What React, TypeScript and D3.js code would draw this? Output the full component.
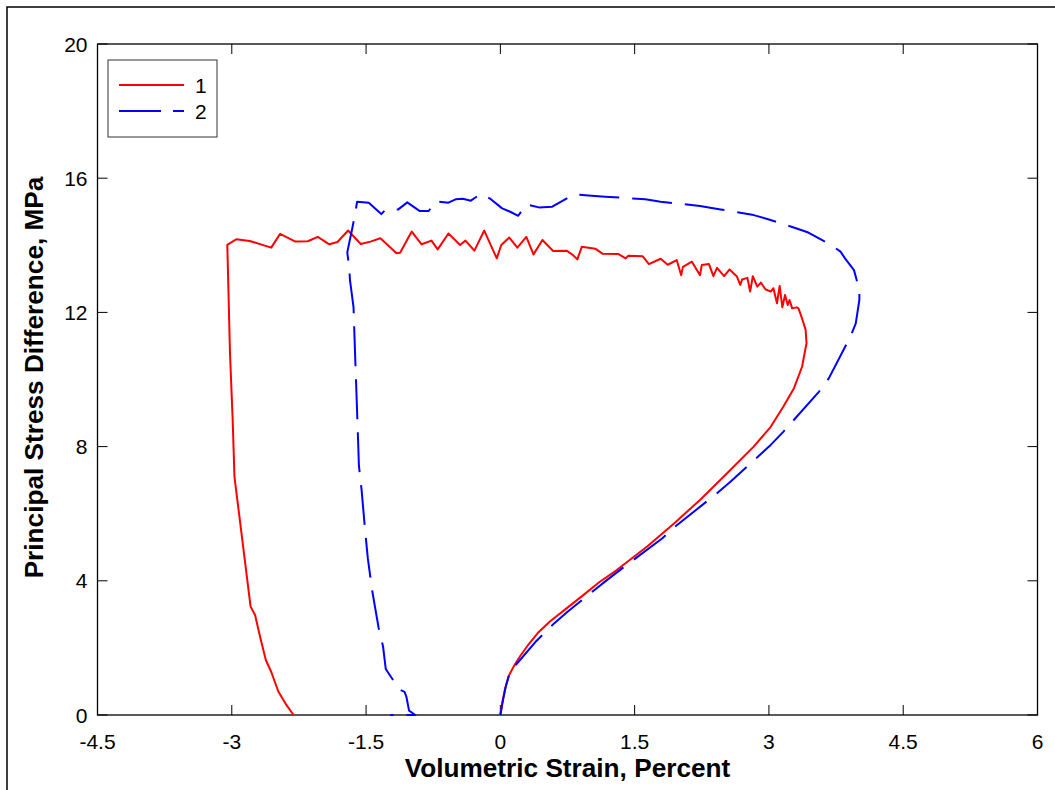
import React from "react";
import * as d3 from "d3";

// Series 1 (red, solid): [volumetric strain %, principal stress difference MPa]
const series1: [number, number][] = [
  [0, 0], [0.02, 0.35], [0.05, 0.75], [0.09, 1.15], [0.15, 1.45], [0.22, 1.75], [0.3, 2.05],
  [0.42, 2.45], [0.56, 2.8], [0.75, 3.2], [0.93, 3.58], [1.1, 3.95], [1.3, 4.32], [1.64, 5.02],
  [1.94, 5.71], [2.23, 6.41], [2.53, 7.2], [2.83, 8.0], [3.02, 8.59], [3.16, 9.19], [3.28, 9.74],
  [3.37, 10.38], [3.42, 11.08], [3.41, 11.48], [3.37, 11.82], [3.33, 12.12],
  [3.31, 12.15], [3.26, 12.12], [3.23, 12.37], [3.21, 12.22], [3.18, 12.52], [3.15, 12.15],
  [3.12, 12.79], [3.09, 12.27], [3.05, 12.72], [3.02, 12.62], [2.96, 12.69], [2.91, 12.89],
  [2.87, 12.77], [2.82, 13.08], [2.79, 12.62], [2.76, 13.03], [2.7, 12.98], [2.68, 12.82],
  [2.64, 13.08], [2.56, 13.28], [2.5, 13.08], [2.42, 13.33], [2.38, 13.08], [2.33, 13.44],
  [2.25, 13.41], [2.23, 13.11], [2.14, 13.51], [2.04, 13.36], [2.02, 13.11], [1.97, 13.56],
  [1.87, 13.42], [1.79, 13.6], [1.66, 13.44], [1.59, 13.67], [1.43, 13.69], [1.4, 13.61],
  [1.32, 13.74], [1.14, 13.75], [1.06, 13.9], [0.91, 13.96], [0.86, 13.58], [0.81, 13.71],
  [0.74, 13.84], [0.59, 13.83], [0.47, 14.16], [0.37, 13.73], [0.29, 14.25], [0.19, 13.93],
  [0.1, 14.23], [0.01, 14.01], [-0.04, 13.61], [-0.18, 14.44], [-0.29, 13.84], [-0.39, 14.14],
  [-0.45, 14.01], [-0.58, 14.35], [-0.7, 13.88], [-0.77, 14.14], [-0.88, 14.03], [-0.99, 14.41],
  [-1.12, 13.78], [-1.16, 13.76], [-1.34, 14.21], [-1.45, 14.11], [-1.56, 14.04], [-1.7, 14.44],
  [-1.82, 14.1], [-1.91, 14.03], [-2.04, 14.25], [-2.15, 14.12], [-2.29, 14.11], [-2.46, 14.34],
  [-2.56, 13.93], [-2.8, 14.13], [-2.95, 14.18], [-3.05, 14.01],
  [-3.02, 10.78], [-2.99, 8.79], [-2.97, 7.1], [-2.79, 3.23], [-2.74, 2.98], [-2.68, 2.29],
  [-2.62, 1.64], [-2.56, 1.29], [-2.48, 0.7], [-2.39, 0.3], [-2.31, 0.0],
];

// Series 2 (blue, dashed)
const series2: [number, number][] = [
  [0, 0], [0.03, 0.45], [0.06, 0.84], [0.11, 1.3], [0.22, 1.64], [0.4, 2.2], [0.6, 2.73],
  [0.75, 3.08], [1.19, 4.02], [1.36, 4.37], [1.81, 5.27], [1.95, 5.61], [2.42, 6.61],
  [2.57, 6.95], [3.02, 8.05], [3.16, 8.44], [3.56, 9.64], [3.67, 10.04], [3.91, 11.28],
  [3.97, 11.67], [4.01, 12.37], [4.01, 12.6], [4.0, 12.77], [3.95, 13.26], [3.85, 13.61],
  [3.8, 13.81], [3.72, 13.96], [3.59, 14.16], [3.44, 14.38], [3.31, 14.5], [3.0, 14.77],
  [2.83, 14.9], [2.46, 15.07], [2.23, 15.17], [1.79, 15.3], [1.62, 15.37], [1.34, 15.42],
  [1.17, 15.45], [1.02, 15.48], [0.82, 15.52], [0.58, 15.15], [0.43, 15.13], [0.29, 15.22],
  [0.2, 14.88], [0.11, 15.0], [0.02, 15.1], [-0.12, 15.4], [-0.22, 15.53], [-0.33, 15.33],
  [-0.42, 15.39], [-0.5, 15.37], [-0.58, 15.27], [-0.73, 15.31], [-0.8, 15.02], [-0.9, 15.02],
  [-1.04, 15.28], [-1.14, 15.07], [-1.28, 15.07], [-1.33, 14.93], [-1.47, 15.27], [-1.6, 15.3],
  [-1.62, 14.97], [-1.65, 14.56], [-1.71, 13.79], [-1.69, 13.38], [-1.68, 12.97], [-1.64, 12.15],
  [-1.63, 11.33], [-1.61, 9.79], [-1.59, 8.25], [-1.58, 7.43], [-1.55, 6.71], [-1.51, 5.48],
  [-1.48, 4.66], [-1.43, 3.68], [-1.36, 2.6], [-1.31, 2.04], [-1.28, 1.37], [-1.19, 1.01],
  [-1.13, 0.76], [-1.07, 0.69], [-1.05, 0.55], [-1.02, 0.13], [-0.95, 0], [-1.23, 0],
];

const xTicks = [-4.5, -3, -1.5, 0, 1.5, 3, 4.5, 6];
const yTicks = [0, 4, 8, 12, 16, 20];
const seriesNames = ["1", "2"];
const xLabel = "Volumetric Strain, Percent";
const yLabel = "Principal Stress Difference, MPa";

const W = 1055;
const H = 790;
const L = 97.5, R = 1037.5, T = 44, B = 715;
const font = "Arial, 'Liberation Sans', sans-serif";

export default function App() {
  const x = d3.scaleLinear().domain([-4.5, 6]).range([L, R]);
  const y = d3.scaleLinear().domain([0, 20]).range([B, T]);
  const line = d3.line<[number, number]>().x((d) => x(d[0])).y((d) => y(d[1]));
  const tl = 10;
  return (
    <svg width={W} height={H} style={{ position: "absolute", left: 0, top: 0, background: "#fff" }}>
      <rect x={0} y={0} width={W} height={H} fill="#fff" />
      <rect x={7} y={7} width={W + 20} height={H + 20} fill="none" stroke="#000" strokeWidth={1.5} />
      {/* axes box */}
      <rect x={L} y={T} width={R - L} height={B - T} fill="#fff" stroke="#000" strokeWidth={1.3} />
      {xTicks.map((t) => (
        <g key={"x" + t}>
          <line x1={x(t)} x2={x(t)} y1={B} y2={B - tl} stroke="#000" strokeWidth={1} />
          <line x1={x(t)} x2={x(t)} y1={T} y2={T + tl} stroke="#000" strokeWidth={1} />
          <text x={x(t)} y={748.5} textAnchor="middle" fontFamily={font} fontSize={21} fill="#000">
            {t}
          </text>
        </g>
      ))}
      {yTicks.map((t) => (
        <g key={"y" + t}>
          <line x1={L} x2={L + tl} y1={y(t)} y2={y(t)} stroke="#000" strokeWidth={1} />
          <line x1={R} x2={R - tl} y1={y(t)} y2={y(t)} stroke="#000" strokeWidth={1} />
          <text x={87.5} y={y(t) + 7.5} textAnchor="end" fontFamily={font} fontSize={21} fill="#000">
            {t}
          </text>
        </g>
      ))}
      <path d={line(series1) || ""} fill="none" stroke="#ff0000" strokeWidth={2} strokeLinejoin="round" />
      <path d={line(series2) || ""} fill="none" stroke="#0000ff" strokeWidth={2} strokeDasharray="40,13" strokeLinejoin="round" />
      {/* legend */}
      <rect x={108} y={60} width={109} height={77} fill="#fff" stroke="#333" strokeWidth={1} />
      <line x1={119} x2={184} y1={85} y2={85} stroke="#ff0000" strokeWidth={2} />
      <line x1={119} x2={184} y1={111} y2={111} stroke="#0000ff" strokeWidth={2} strokeDasharray="42,12" />
      <text x={195} y={92.5} fontFamily={font} fontSize={21} fill="#000">{seriesNames[0]}</text>
      <text x={195} y={118.5} fontFamily={font} fontSize={21} fill="#000">{seriesNames[1]}</text>
      <text x={(L + R) / 2} y={777} textAnchor="middle" fontFamily={font} fontSize={26.2} fontWeight="bold" fill="#000">
        {xLabel}
      </text>
      <text transform={`translate(43,${(T + B) / 2 - 2}) rotate(-90)`} textAnchor="middle" fontFamily={font} fontSize={26.2} fontWeight="bold" fill="#000">
        {yLabel}
      </text>
    </svg>
  );
}
